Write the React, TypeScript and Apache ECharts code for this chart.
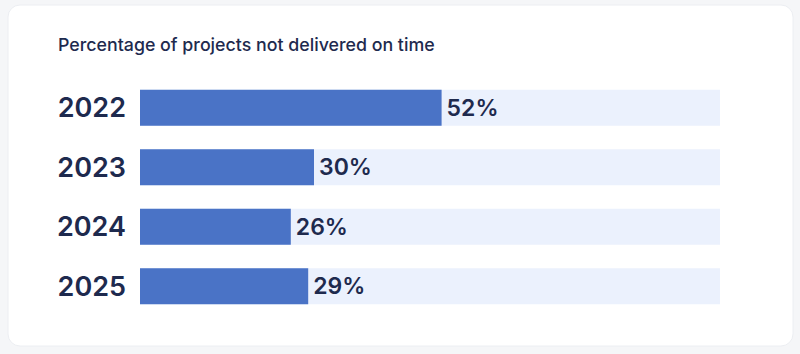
import React, { useEffect, useRef } from "react";
import * as echarts from "echarts";

const years = ["2022", "2023", "2024", "2025"];
const lateShare = [52, 30, 26, 29];
const axisMax = 100;
const chartTitle = "Percentage of projects not delivered on time";

const NAVY = "#1e2a4e";

export default function App() {
  const ref = useRef<HTMLDivElement>(null);
  useEffect(() => {
    if (!ref.current) return;
    const chart = echarts.init(ref.current, null, { renderer: "svg" });
    chart.setOption({
      animation: false,
      backgroundColor: "#f5f6f8",
      graphic: [
        {
          type: "rect",
          z: -10,
          shape: { x: 8, y: 5, width: 785, height: 341, r: 12 },
          style: {
            fill: "#ffffff",
            stroke: "#eceef2",
            lineWidth: 1,
          },
        },
        {
          type: "text",
          left: 58,
          top: 35,
          style: {
            text: chartTitle,
            fontFamily: "Inter, 'Noto Sans', sans-serif",
            fontSize: 17.8,
            fontWeight: 500,
            fill: NAVY,
          },
        },
      ],
      grid: { left: 140, right: 80, top: 78, bottom: 38, containLabel: false },
      xAxis: {
        type: "value",
        min: 0,
        max: axisMax,
        show: false,
      },
      yAxis: {
        type: "category",
        data: years,
        inverse: true,
        axisLine: { show: false },
        axisTick: { show: false },
        axisLabel: {
          margin: 14,
          fontSize: 27,
          fontWeight: 600,
          color: NAVY,
          fontFamily: "Inter, 'Noto Sans', sans-serif",
        },
      },
      series: [
        {
          type: "bar",
          data: lateShare,
          barWidth: 36,
          showBackground: true,
          backgroundStyle: { color: "#ebf1fd" },
          itemStyle: { color: "#4a73c6" },
          label: {
            show: true,
            position: "right",
            distance: 5,
            formatter: "{c}%",
            fontSize: 23,
            fontWeight: 600,
            color: NAVY,
            fontFamily: "Inter, 'Noto Sans', sans-serif",
          },
        },
      ],
    });
    return () => chart.dispose();
  }, []);
  return (
    <div
      ref={ref}
      style={{ position: "fixed", left: 0, top: 0, width: 800, height: 354 }}
    />
  );
}
